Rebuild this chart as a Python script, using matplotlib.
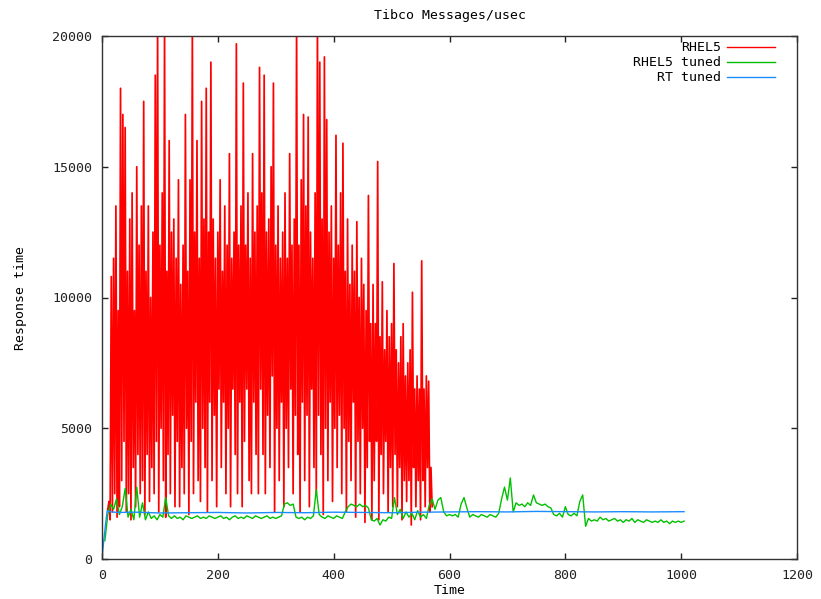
import numpy as np
import matplotlib.pyplot as plt

# RHEL5 response time, sampled every 2 time units from t=10
red_t = np.arange(10, 572, 2)
red_v = [
    1900, 2200, 1500, 10800, 1800, 11500, 2500, 13500, 1600, 9500,
    2000, 18000, 3000, 17000, 4500, 16500, 1800, 11000, 2500, 13000,
    1500, 14000, 3500, 9500, 2000, 15000, 4000, 12000, 2500, 13500,
    3000, 17500, 1700, 11000, 4000, 13500, 2200, 10000, 3500, 12500,
    2500, 18500, 4500, 20500, 1800, 12000, 5000, 14000, 3000, 20500,
    1600, 11000, 4000, 16000, 2500, 12500, 5500, 13000, 2000, 11500,
    4500, 14500, 2000, 10500, 3500, 12000, 2500, 17000, 5000, 11000,
    1700, 14500, 4500, 20500, 2500, 12500, 6000, 16000, 3000, 11500,
    2200, 17500, 5000, 13000, 3500, 18000, 1800, 12500, 6000, 19000,
    3000, 13000, 5500, 11500, 2000, 12500, 6500, 14500, 3500, 11000,
    6000, 13500, 2500, 12000, 5000, 15500, 2000, 11500, 6500, 12500,
    4000, 19700, 2500, 12000, 6000, 13500, 2000, 18200, 4500, 12000,
    6500, 14000, 3000, 11500, 2500, 15500, 6000, 12500, 4000, 13500,
    2500, 18800, 6500, 14000, 4000, 18500, 2500, 12500, 5500, 13000,
    3500, 15000, 7000, 18200, 1800, 12000, 5000, 13500, 3000, 11500,
    6000, 12500, 2000, 14000, 5000, 11500, 3500, 15500, 6500, 12000,
    2500, 13000, 5500, 20500, 4000, 12000, 1800, 14500, 6000, 17000,
    3000, 13500, 5500, 16900, 2000, 12500, 6500, 11500, 3500, 14000,
    2500, 20500, 5500, 19000, 4000, 13000, 1700, 19200, 5000, 16800,
    3000, 12500, 6000, 13500, 2200, 11500, 5000, 16200, 3500, 12000,
    5500, 14000, 2500, 15900, 5000, 11000, 1800, 13000, 4500, 10500,
    3000, 12000, 6000, 11000, 1600, 12900, 4500, 10000, 2500, 11500,
    5000, 10500, 1400, 9500, 3500, 13900, 4500, 9000, 1500, 10500,
    3000, 9000, 4500, 15200, 1500, 8500, 4000, 10600, 2500, 8000,
    4500, 9500, 1800, 8500, 3500, 9000, 2000, 11300, 4000, 8000,
    2000, 7500, 3500, 8500, 1500, 9000, 3000, 7000, 2200, 7500,
    3000, 8000, 1300, 10200, 3500, 6500, 2000, 7000, 3000, 6500,
    1500, 11400, 3000, 6500, 2000, 7000, 3500, 6800, 1800, 3500,
    2000,
]

# RHEL5 tuned, every 5 time units from t=5
green_t = np.arange(5, 1010, 5)
green_v = [
    700, 1700, 2100, 1900, 2300, 1700, 2000, 2700, 1600, 1900,
    1500, 2750, 1600, 2150, 1500, 1800, 1550, 1650, 1500, 1700,
    1600, 2350, 1650, 1550, 1650, 1550, 1600, 1500, 1650, 1600,
    1550, 1600, 1650, 1550, 1600, 1550, 1650, 1600, 1550, 1600,
    1650, 1550, 1600, 1500, 1600, 1650, 1550, 1600, 1550, 1650,
    1600, 1550, 1650, 1600, 1550, 1600, 1650, 1550, 1600, 1550,
    1600, 1650, 2100, 2150, 2050, 2100, 1600, 1550, 1600, 1500,
    1600, 1550, 1650, 2650, 1700, 1600, 1550, 1650, 1600, 1550,
    1650, 1600, 1550, 1800, 2000, 2100, 2050, 2000, 2100, 2000,
    2050, 1950, 1500, 1450, 1550, 1300, 1500, 1450, 1600, 1550,
    2350, 1700, 1900, 1550, 1800, 1600, 1750, 1500, 1850, 1600,
    1700, 1550, 2050, 2300, 1900, 2250, 2350, 1800, 1650, 1700,
    1650, 1700, 1600, 2100, 2350, 1950, 1600, 1700, 1650, 1600,
    1700, 1650, 1600, 1700, 1650, 1600, 1750, 2300, 2750, 2250,
    3100, 1800, 2150, 2050, 2100, 2000, 2150, 2050, 2450, 2150,
    2100, 2050, 2100, 2000, 1950, 1700, 1650, 1750, 1600, 2000,
    1700, 1650, 1750, 1650, 2200, 2450, 1250, 1550, 1450, 1500,
    1450, 1600, 1500, 1550, 1450, 1500, 1550, 1450, 1500, 1400,
    1500, 1450, 1550, 1400, 1500, 1450, 1400, 1500, 1450, 1400,
    1450, 1400, 1500, 1400, 1450, 1350, 1450, 1400, 1450, 1400,
    1450,
]

# RT tuned
blue_t = [0, 3, 6, 9, 15, 30, 60, 100, 150, 200, 250, 300, 350, 400, 450,
          500, 550, 600, 650, 700, 750, 800, 850, 900, 950, 1005]
blue_v = [0, 700, 1300, 1850, 1800, 1780, 1790, 1760, 1770, 1780, 1760, 1780,
          1770, 1790, 1780, 1770, 1790, 1800, 1810, 1800, 1820, 1810, 1800,
          1810, 1800, 1810]

font = 'DejaVu Sans Mono'
fs = 9.5

fig = plt.figure(figsize=(8.21, 5.99), dpi=100)
ax = fig.add_axes([102/821, 40/599, 695/821, 523/599])

ax.plot(red_t, red_v, color='#ff0000', lw=1.25, label='RHEL5')
ax.plot(green_t, green_v, color='#00c000', lw=1.0, label='RHEL5 tuned')
ax.plot(blue_t, blue_v, color='#1a8cff', lw=1.0, label='RT tuned')

ax.set_xlim(0, 1200)
ax.set_ylim(0, 20000)
ax.set_xticks(range(0, 1201, 200))
ax.set_yticks(range(0, 20001, 5000))
ax.tick_params(direction='in', length=4, width=1, top=True, right=True,
               labelsize=fs, colors='#222222', pad=7)
for lab in ax.get_xticklabels() + ax.get_yticklabels():
    lab.set_family(font)
for s in ax.spines.values():
    s.set_color('#333333')
    s.set_linewidth(1)

ax.set_title('Tibco Messages/usec', fontsize=fs, family=font, pad=12)
ax.set_xlabel('Time', fontsize=fs, family=font, labelpad=2)
ax.set_ylabel('Response time', fontsize=fs, family=font, labelpad=18)

leg = ax.legend(loc='upper right', bbox_to_anchor=(0.968, 0.99), frameon=False,
                markerfirst=False, handlelength=3.6, handletextpad=0.5,
                labelspacing=0.15, borderpad=0, borderaxespad=0,
                prop={'family': font, 'size': fs})
for h in leg.get_lines():
    h.set_linewidth(1.0)

fig.savefig('out.png', dpi=100)
